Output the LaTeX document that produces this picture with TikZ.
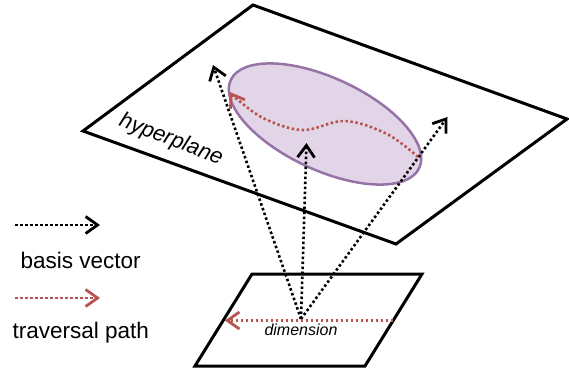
\documentclass[tikz,border=0pt]{standalone}
\usepackage{fontspec}
\setmainfont{Liberation Sans}
\usetikzlibrary{arrows.meta}
\definecolor{pfill}{HTML}{E1D5E7}
\definecolor{pdraw}{HTML}{9673A6}
\definecolor{rpath}{HTML}{B85450}
\tikzset{
  plane/.style={draw=black, line width=3pt, line join=miter},
  basisvec/.style={draw=black, line width=2.6pt, dash pattern=on 2.5pt off 2.5pt,
     -{Straight Barb[length=12pt,width=17pt,line width=2.8pt]}},
  travpath/.style={draw=rpath, line width=2.6pt, dash pattern=on 2.5pt off 2.5pt,
     -{Straight Barb[length=12pt,width=17pt,line width=2.8pt]}},
  lbl/.style={font=\fontsize{22.5}{26}\selectfont, inner sep=0pt, anchor=base west}
}
\begin{document}
\begin{tikzpicture}[x=1pt,y=-1pt]
\useasboundingbox (0,0) rectangle (569,374);
% hyperplane
\coordinate (ht) at (253,5);
\coordinate (hr) at (567,119);
\coordinate (hb) at (396,244);
\coordinate (hl) at (83,131);
\draw[plane] (ht) -- (hr) -- (hb) -- (hl) -- cycle;
\node[font=\fontsize{22}{25}\selectfont\itshape, rotate=-21, inner sep=0pt] (hlabel) at (171,140) {hyperplane};
% lower plane
\coordinate (lt1) at (252,274);
\coordinate (lt2) at (422,274);
\coordinate (lb2) at (365,366);
\coordinate (lb1) at (195,366);
\draw[plane] (lt1) -- (lt2) -- (lb2) -- (lb1) -- cycle;
% ellipse
\draw[draw=pdraw, fill=pfill, line width=2.5pt] (325,124) ellipse[x radius=104, y radius=46, rotate=-25];
% origin and tips
\coordinate (o) at (301,319);
\coordinate (v1) at (213,65);
\coordinate (v2) at (306.5,143);
\coordinate (v3) at (447.5,117);
\draw[basisvec] (o) -- (v1);
\draw[basisvec] (o) -- (v2);
\draw[basisvec] (o) -- (v3);
% traversal path on hyperplane
\draw[travpath] plot[smooth, tension=0.6] coordinates {(418,157) (387,134) (345,121) (303,130) (265,119) (238,100) (230,92)};
% dimension path
\coordinate (ds) at (393,320.5);
\coordinate (de) at (225,320.5);
\draw[travpath] (ds) -- (de);
\node[font=\fontsize{16}{19}\selectfont\itshape, inner sep=0pt, anchor=base] (dim) at (301,335) {dimension};
% legend
\coordinate (l1a) at (15,225);
\coordinate (l1b) at (100,225);
\draw[basisvec] (l1a) -- (l1b);
\node[lbl] (lb) at (20.5,268) {basis vector};
\coordinate (l2a) at (15,298);
\coordinate (l2b) at (100,298);
\draw[travpath] (l2a) -- (l2b);
\node[lbl] (lt) at (12.5,338) {traversal path};
\end{tikzpicture}
\end{document}
